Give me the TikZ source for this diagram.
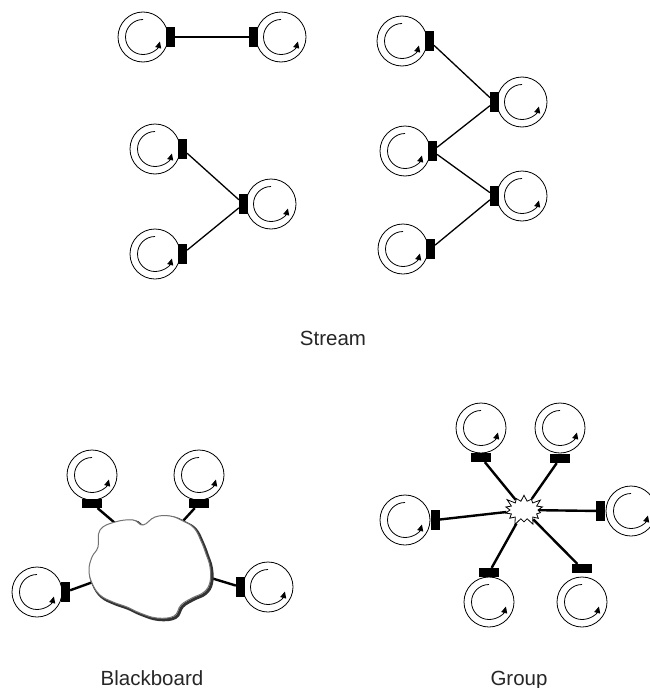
\documentclass[tikz,border=0pt]{standalone}
\usepackage{fontspec}
\newfontfamily\lblfont{Liberation Sans}
\usetikzlibrary{arrows.meta,shapes.symbols}
\tikzset{
  proc/.style={circle,draw,line width=0.8pt,fill=white,minimum size=50pt,inner sep=0pt,
    path picture={\draw[line width=0.8pt,-{Triangle[length=6.5pt,width=6pt]}]
      ([shift={(90:17.5pt)}]path picture bounding box.center) arc[start angle=90,end angle=345,radius=17.5pt];}},
  vport/.style={rectangle,fill=black,inner sep=0pt,minimum width=9pt,minimum height=20pt},
  hport/.style={rectangle,fill=black,inner sep=0pt,minimum width=20pt,minimum height=9pt},
  thinlink/.style={line width=1.3pt},
  thicklink/.style={line width=2.4pt},
  caption/.style={anchor=base,text=black!85,font=\lblfont\fontsize{20.5}{24}\selectfont},
}
\begin{document}
\begin{tikzpicture}[x=1pt,y=-1pt]
  \useasboundingbox (0,0) rectangle (649,688);
  % stream: pair
  \node[proc] (s1) at (143,37) {};
  \node[proc] (s2) at (281,37) {};
  \node[vport] (sp1) at ([xshift=2pt]s1.east) {};
  \node[vport] (sp2) at ([xshift=-2pt]s2.west) {};
  \draw[thinlink] (sp1) -- (sp2);
  % stream: merge
  \node[proc] (t1) at (155,149) {};
  \node[proc] (t2) at (155,254) {};
  \node[proc] (t3) at (271,204) {};
  \node[vport] (tp1) at ([xshift=2pt]t1.east) {};
  \node[vport] (tp2) at ([xshift=2pt]t2.east) {};
  \node[vport] (tp3) at ([xshift=-2pt]t3.west) {};
  \draw[thinlink] (tp1) -- (tp3);
  \draw[thinlink] (tp2) -- (tp3);
  % stream: chain
  \node[proc] (u1) at (402,41) {};
  \node[proc] (u2) at (522,102) {};
  \node[proc] (u3) at (405,151) {};
  \node[proc] (u4) at (522,196) {};
  \node[proc] (u5) at (403,249) {};
  \node[vport] (up1) at ([xshift=2pt]u1.east) {};
  \node[vport] (up2) at ([xshift=-2pt]u2.west) {};
  \node[vport] (up3) at ([xshift=2pt]u3.east) {};
  \node[vport] (up4) at ([xshift=-2pt]u4.west) {};
  \node[vport] (up5) at ([xshift=2pt]u5.east) {};
  \draw[thinlink] (up1) -- (up2);
  \draw[thinlink] (up3) -- (up2);
  \draw[thinlink] (up3) -- (up4);
  \draw[thinlink] (up5) -- (up4);
  \node[caption] (lstream) at (333,345) {Stream};

  % blackboard
  \node[proc] (b1) at (92,475) {};
  \node[proc] (b2) at (199,475) {};
  \node[proc] (b3) at (37,592) {};
  \node[proc] (b4) at (268,587) {};
  \node[hport] (bp1) at ([yshift=-3pt]b1.south) {};
  \node[hport] (bp2) at ([yshift=-3pt]b2.south) {};
  \node[vport] (bp3) at ([xshift=3pt]b3.east) {};
  \node[vport] (bp4) at ([xshift=-2pt]b4.west) {};
  \coordinate (bc1) at (115,523);
  \coordinate (bc2) at (183,521);
  \coordinate (bc3) at (93,582);
  \coordinate (bc4) at (211,578);
  \draw[thicklink] (bp1) -- (bc1);
  \draw[thicklink] (bp2) -- (bc2);
  \draw[thicklink] (bp3) -- (bc3);
  \draw[thicklink] (bp4) -- (bc4);
  \def\cloudpts{(100,530) (115,522) (133,520) (143,525) (155,517) (170,516) (183,521) (194,528)
    (201,541) (206,554) (210,567) (210,582) (204,592) (192,598) (181,605) (174,616) (157,618)
    (140,613) (127,607) (113,602) (100,595) (92,583) (89,570) (92,557) (98,547)}
  \draw[black!80,line width=3pt,shift={(1.5,1.5)}] plot[smooth cycle,tension=0.7] coordinates {\cloudpts};
  \draw[fill=white,draw=black!55,line width=1pt] plot[smooth cycle,tension=0.7] coordinates {\cloudpts};
  \node[caption] (lboard) at (152,685) {Blackboard};

  % group
  \node[starburst,draw,fill=white,line width=0.8pt,minimum width=44pt,minimum height=34pt,
    starburst points=14,starburst point height=8pt] (hub) at (524,510) {};
  \node[proc] (g1) at (481,428) {};
  \node[proc] (g2) at (560,428) {};
  \node[proc] (g3) at (405,520) {};
  \node[proc] (g4) at (631,511) {};
  \node[proc] (g5) at (489,602) {};
  \node[proc] (g6) at (582,602) {};
  \node[hport] (gp1) at ([yshift=-4pt]g1.south) {};
  \node[hport] (gp2) at ([yshift=-5pt]g2.south) {};
  \node[vport] (gp3) at ([xshift=5pt]g3.east) {};
  \node[vport] (gp4) at ([xshift=-5pt]g4.west) {};
  \node[hport] (gp5) at ([yshift=4pt]g5.north) {};
  \node[hport] (gp6) at ([yshift=8pt]g6.north) {};
  \draw[thicklink] (gp1) -- (hub);
  \draw[thicklink] (gp2) -- (hub);
  \draw[thicklink] (gp3) -- (hub);
  \draw[thicklink] (gp4) -- (hub);
  \draw[thicklink] (gp5) -- (hub);
  \draw[thicklink] (gp6) -- (hub);
  \node[caption] (lgroup) at (519,685) {Group};
\end{tikzpicture}
\end{document}
